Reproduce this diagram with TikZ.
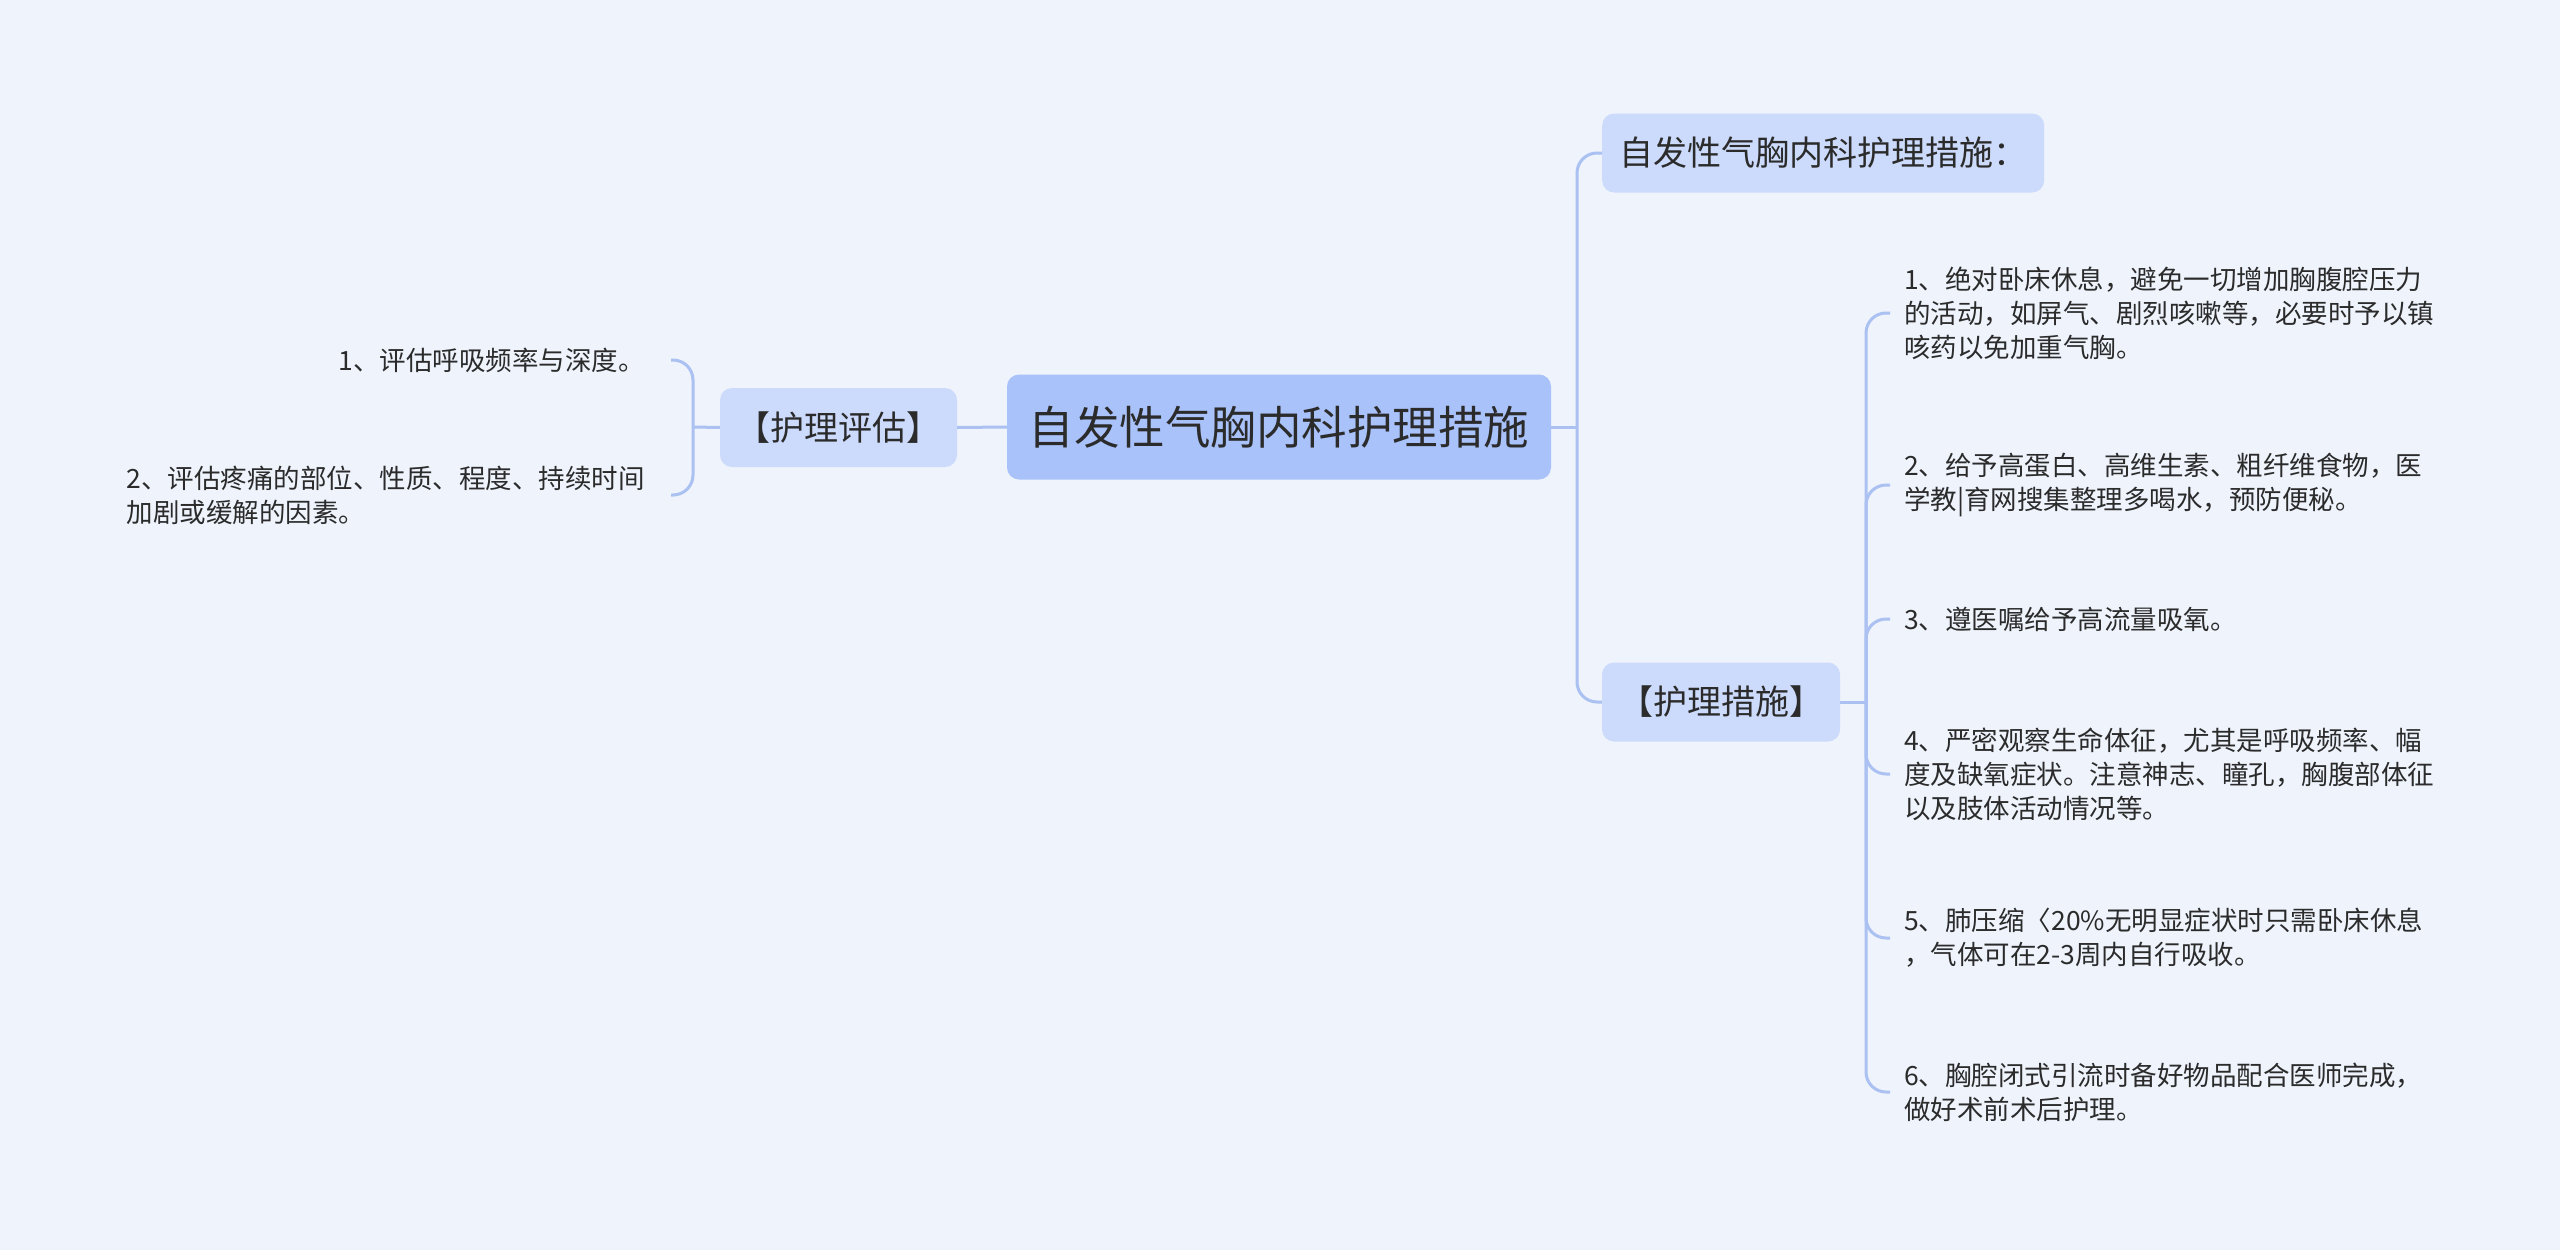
\documentclass[tikz,border=0pt]{standalone}
\usepackage{fontspec}
\setmainfont{Noto Sans CJK SC}
\definecolor{bgcol}{HTML}{EEF3FC}
\definecolor{rootcol}{HTML}{A9C2FA}
\definecolor{subcol}{HTML}{CCDBFB}
\definecolor{linecol}{HTML}{AAC1F2}
\definecolor{txtcol}{HTML}{2B2B2B}
\begin{document}
\begin{tikzpicture}[x=1pt,y=-1pt,
  rootbox/.style={fill=rootcol,rounded corners=12pt,text=txtcol,minimum width=544pt,minimum height=105pt,font=\fontsize{45.5}{52}\selectfont},
  subbox/.style={fill=subcol,rounded corners=12pt,text=txtcol,minimum height=79pt,inner xsep=0pt,font=\fontsize{34}{40}\selectfont},
  leaf/.style={text=txtcol,align=left,inner xsep=14pt,inner ysep=0pt,font=\fontsize{26.5}{34}\selectfont},
  link/.style={draw=linecol,line width=3pt},
  elbow/.style={link,rounded corners=20pt}]
\fill[bgcol] (0,0) rectangle (2560,1250);
\useasboundingbox (0,0) rectangle (2560,1250);

% main node and second level
\node[rootbox] (root) at (1279,427) {自发性气胸内科护理措施};
\node[subbox,minimum width=237pt] (assess) at (838.5,427.5) {【护理评估】};
\node[subbox,inner xsep=17pt,anchor=west] (title) at (1602,153) {自发性气胸内科护理措施：};
\node[subbox,minimum width=238pt] (care) at (1721,702) {【护理措施】};

% left leaves
\node[leaf,inner xsep=26pt,anchor=east] (a1) at (671,360) {1、评估呼吸频率与深度。};
\node[leaf,inner xsep=26pt,anchor=east] (a2) at (671,495) {2、评估疼痛的部位、性质、程度、持续时间\\加剧或缓解的因素。};

% right leaves
\node[leaf,anchor=west] (c1) at (1890,313) {1、绝对卧床休息，避免一切增加胸腹腔压力\\的活动，如屏气、剧烈咳嗽等，必要时予以镇\\咳药以免加重气胸。};
\node[leaf,anchor=west] (c2) at (1890,485) {2、给予高蛋白、高维生素、粗纤维食物，医\\学教|育网搜集整理多喝水，预防便秘。};
\node[leaf,anchor=west] (c3) at (1890,619) {3、遵医嘱给予高流量吸氧。};
\node[leaf,anchor=west] (c4) at (1890,774) {4、严密观察生命体征，尤其是呼吸频率、幅\\度及缺氧症状。注意神志、瞳孔，胸腹部体征\\以及肢体活动情况等。};
\node[leaf,anchor=west] (c5) at (1890,938) {5、肺压缩〈20\%无明显症状时只需卧床休息\\，气体可在2-3周内自行吸收。};
\node[leaf,anchor=west] (c6) at (1890,1092) {6、胸腔闭式引流时备好物品配合医师完成，\\做好术前术后护理。};

% branch points
\coordinate (rtrunk) at (1577,427);
\coordinate (ltrunk) at (693,427);
\coordinate (ctrunk) at (1866,702);

\draw[link] (root.east) -- (rtrunk);
\draw[elbow] (rtrunk) |- (title.west);
\draw[elbow] (rtrunk) |- (care.west);

\draw[link] (root.west) -- (assess.east);
\draw[link] (assess.west) -- (ltrunk);
\draw[elbow] (ltrunk) |- (a1.east);
\draw[elbow] (ltrunk) |- (a2.east);

\draw[link] (care.east) -- (ctrunk);
\foreach \n in {c1,c2,c3,c4,c5,c6}
  \draw[elbow] (ctrunk) |- (\n.west);
\end{tikzpicture}
\end{document}
